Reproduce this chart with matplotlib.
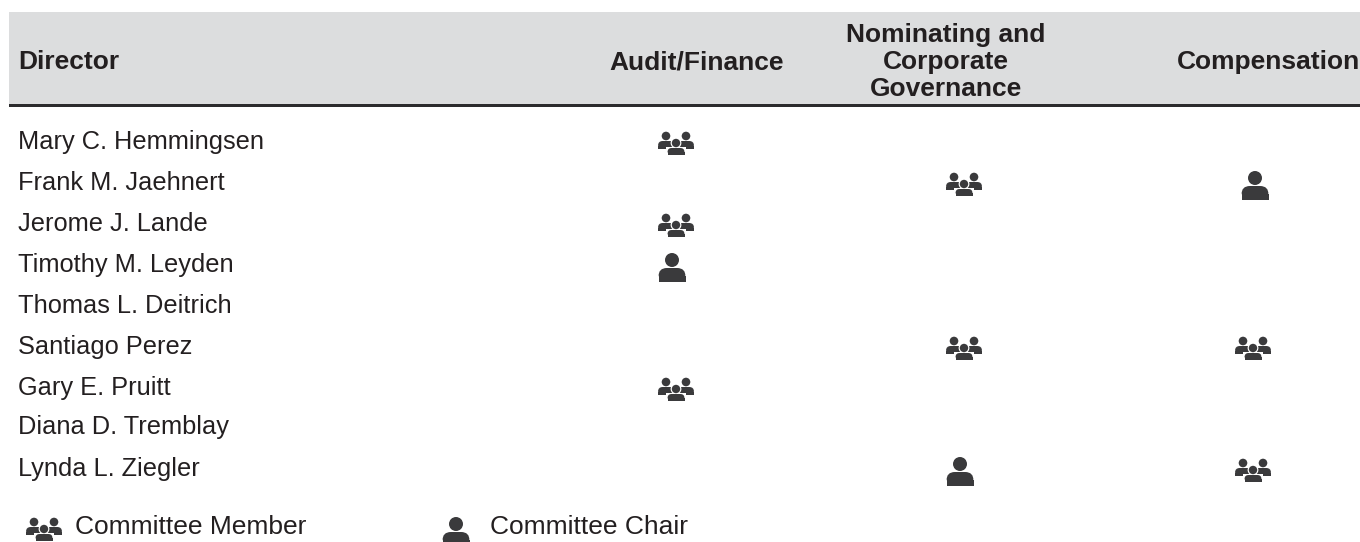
import matplotlib
matplotlib.use("Agg")
import matplotlib.pyplot as plt
from matplotlib.patches import Circle, FancyBboxPatch, Rectangle

directors = ["Mary C. Hemmingsen", "Frank M. Jaehnert", "Jerome J. Lande", "Timothy M. Leyden",
             "Thomas L. Deitrich", "Santiago Perez", "Gary E. Pruitt", "Diana D. Tremblay", "Lynda L. Ziegler"]
row_y = [140, 181, 222, 263, 304, 345, 386, 425, 467]
committees = ["Audit/Finance", "Nominating and\nCorporate\nGovernance", "Compensation"]
column_x = [697, 946, 1269]
# (director index, x of the icon)
members = [(0, 676), (1, 964), (2, 676), (5, 964), (5, 1253), (6, 676), (8, 1253)]
chairs = [(1, 1255), (3, 672), (8, 960)]

ink = "#3a3a3c"
text_c = "#231f20"


def body(ax, x0, x1, y0, y1, z=3):
    # rounded shoulders, flat bottom
    r = (y1 - y0) * 0.6
    ax.add_patch(FancyBboxPatch((x0 + r, y0 + r), x1 - x0 - 2 * r, y1 - y0 - 2 * r,
                                boxstyle="round,pad=%f,rounding_size=%f" % (r, r),
                                fc=ink, ec="none", zorder=z))
    ax.add_patch(Rectangle((x0, y0 + r), x1 - x0, y1 - y0 - r, fc=ink, ec="none", zorder=z))


def chair(ax, cx, cy):
    ax.add_patch(Circle((cx, cy - 7), 7, fc=ink, ec="none", zorder=3))
    body(ax, cx - 13.5, cx + 13.5, cy + 1, cy + 15)


def member(ax, cx, cy):
    for dx in (-10, 10):
        ax.add_patch(Circle((cx + dx, cy - 7), 4.3, fc=ink, ec="none", zorder=3))
    body(ax, cx - 18, cx - 1, cy - 2, cy + 6)
    body(ax, cx + 1, cx + 18, cy - 2, cy + 6)
    # white halo separates the front figure
    ax.add_patch(Circle((cx, cy), 5.4, fc="white", ec="none", zorder=4))
    ax.add_patch(Rectangle((cx - 10, cy + 4), 20, 9, fc="white", ec="none", zorder=4))
    ax.add_patch(Circle((cx, cy), 4.2, fc=ink, ec="none", zorder=5))
    body(ax, cx - 8.5, cx + 8.5, cy + 5, cy + 12, z=5)


fig = plt.figure(figsize=(13.6, 5.42), dpi=100)
ax = fig.add_axes([0, 0, 1, 1])
ax.set_xlim(0, 1360)
ax.set_ylim(542, 0)
ax.axis("off")
plt.rcParams["font.family"] = "Liberation Sans"

ax.add_patch(Rectangle((9, 12), 1351, 92, fc="#dcddde", ec="none"))
ax.add_patch(Rectangle((9, 104), 1351, 3, fc="#2b2b2d", ec="none"))

ax.text(18, 62, "Director", fontsize=19, fontweight="bold", color=text_c, va="center")
for name, x in zip(committees, column_x):
    ax.text(x, 62, name, fontsize=19, fontweight="bold", color=text_c, ha="center", va="center",
            linespacing=1.18)

for name, y in zip(directors, row_y):
    ax.text(18, y + 2, name, fontsize=18.3, color=text_c, va="center")

for i, x in members:
    member(ax, x, row_y[i] + 3)
for i, x in chairs:
    chair(ax, x, row_y[i] + 4)

member(ax, 44, 529)
ax.text(75, 527, "Committee Member", fontsize=19, color=text_c, va="center")
chair(ax, 456, 531)
ax.text(490, 527, "Committee Chair", fontsize=19, color=text_c, va="center")

fig.savefig("out.png", dpi=100)
